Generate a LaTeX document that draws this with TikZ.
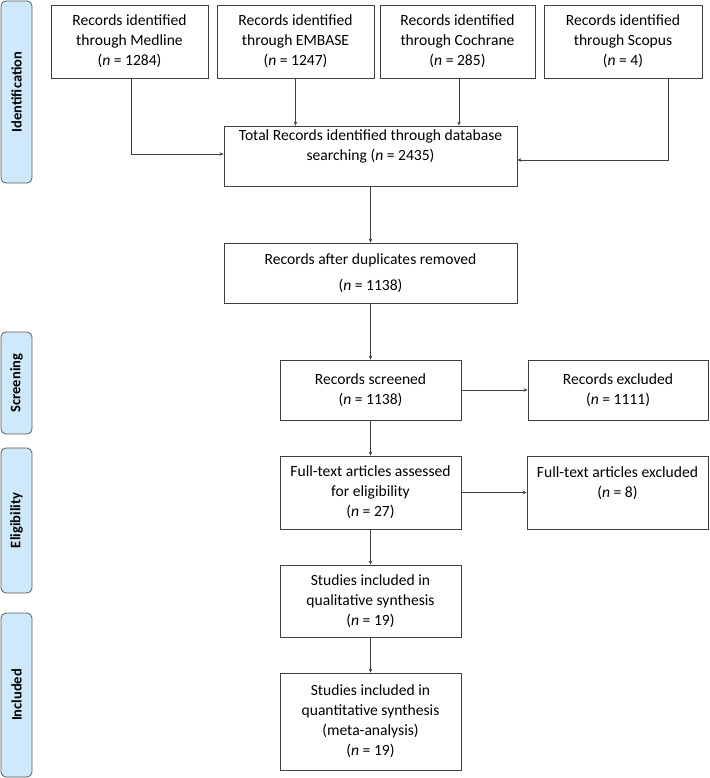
\documentclass[tikz,border=0pt]{standalone}
\usepackage{fontspec}
\setmainfont{Carlito}
\usetikzlibrary{arrows.meta}
\definecolor{linegray}{HTML}{404040}
\definecolor{sidefill}{HTML}{CFE9FC}
\definecolor{sidedraw}{HTML}{5A5A5A}
\begin{document}
\begin{tikzpicture}[x=1pt,y=-1pt,
  box/.style={draw=linegray, line width=0.8pt, align=center, inner sep=2pt,
    font=\fontsize{15.6}{20}\selectfont, text=black},
  side/.style={draw=sidedraw, line width=0.8pt, fill=sidefill, rounded corners=5pt,
    rotate=90, minimum height=31pt, inner sep=0pt,
    font=\fontsize{14.5}{17}\selectfont\bfseries},
  conn/.style={draw=linegray, line width=0.8pt, -{Stealth[length=4pt,width=3.5pt]}}
]
\useasboundingbox (0,0) rectangle (709,778);
% side labels
\node[side, minimum width=182pt] (sid) at (16.5,92) {Identification};
\node[side, minimum width=102pt] (ssc) at (16.5,383) {Screening};
\node[side, minimum width=145pt] (sel) at (16.5,520.5) {Eligibility};
\node[side, minimum width=164pt] (sin) at (16.5,695) {Included};
% top row
\node[box, minimum width=157pt, minimum height=73pt] (med) at (129.5,41.5) {Records identified\\through Medline\\(\textit{n} = 1284)};
\node[box, minimum width=157pt, minimum height=73pt] (emb) at (295.5,41.5) {Records identified\\through EMBASE\\(\textit{n} = 1247)};
\node[box, minimum width=155pt, minimum height=73pt] (coch) at (457.5,41.5) {Records identified\\through Cochrane\\(\textit{n} = 285)};
\node[box, minimum width=158pt, minimum height=73pt] (scop) at (623,41.5) {Records identified\\through Scopus\\(\textit{n} = 4)};
% main column
\node[box, minimum width=293pt, minimum height=60pt] (total) at (370.5,156) {Total Records identified through database\\searching (\textit{n} = 2435)\\[2pt]};
\node[box, minimum width=293pt, minimum height=60pt] (dup) at (370.5,273) {Records after duplicates removed\\[6pt](\textit{n} = 1138)};
\node[box, minimum width=181pt, minimum height=60pt] (scr) at (370.5,390) {Records screened\\(\textit{n} = 1138)};
\node[box, minimum width=180pt, minimum height=60pt] (exc) at (618,390) {Records excluded\\(\textit{n} = 1111)};
\node[box, minimum width=181pt, minimum height=73pt] (ft) at (370.5,492.5) {Full-text articles assessed\\for eligibility\\(\textit{n} = 27)};
\node[box, minimum width=181pt, minimum height=73pt] (ftx) at (617.5,492.5) {Full-text articles excluded\\(\textit{n} = 8)\\\mbox{}};
\node[box, minimum width=181pt, minimum height=72pt] (qual) at (370.5,601) {Studies included in\\qualitative synthesis\\(\textit{n} = 19)};
\node[box, minimum width=181pt, minimum height=97pt] (quant) at (370.5,721.5) {Studies included in\\quantitative synthesis\\(meta-analysis)\\(\textit{n} = 19)};
% connectors
\coordinate (medout) at (131,78);
\coordinate (scopout) at (668,78);
\draw[conn] (medout) |- ([yshift=2pt]total.west);
\draw[conn] (emb.south) -- (emb.south |- total.north);
\draw[conn] ([xshift=1.5pt]coch.south) -- ([xshift=1.5pt]coch.south |- total.north);
\draw[conn] (scopout) |- ([yshift=-4pt]total.east);
\draw[conn] (total) -- (dup);
\draw[conn] (dup) -- (scr);
\draw[conn] (scr) -- (exc);
\draw[conn] (scr) -- (ft);
\draw[conn] (ft) -- (ftx);
\draw[conn] (ft) -- (qual);
\draw[conn] (qual) -- (quant);
\end{tikzpicture}
\end{document}
